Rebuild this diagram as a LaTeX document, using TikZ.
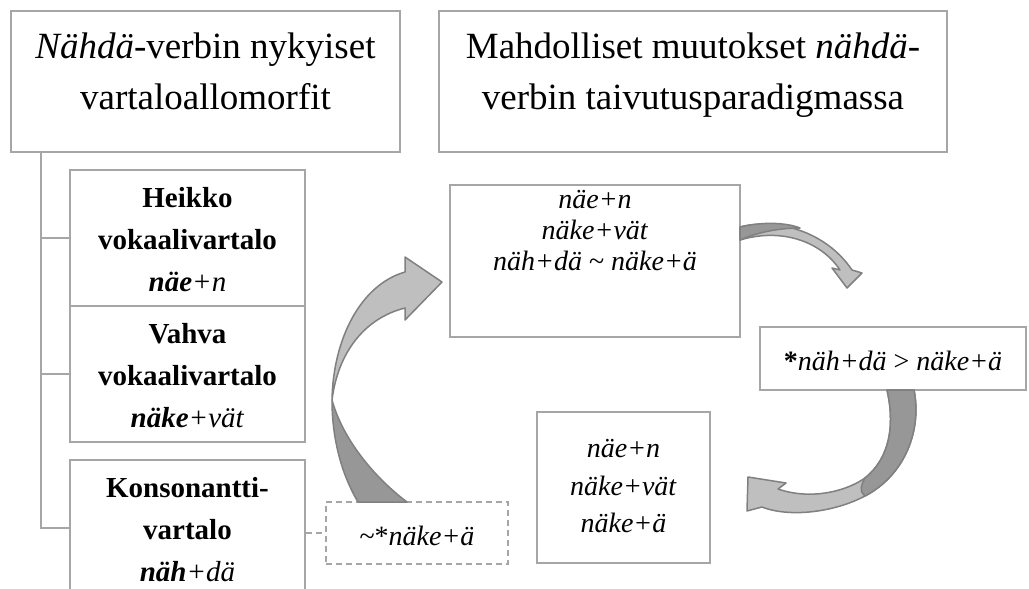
\documentclass[tikz,border=0pt]{standalone}
\usepackage{fontspec}
\setmainfont{Liberation Serif}
\usepackage{xcolor}
\usepackage{tikz}
\usetikzlibrary{fit}
\definecolor{framegray}{HTML}{A6A6A6}
\definecolor{arrowlight}{HTML}{BFBFBF}
\definecolor{arrowdark}{HTML}{979797}
\definecolor{arrowline}{HTML}{808080}

\begin{document}
\begin{tikzpicture}[x=0.5pt,y=-0.5pt,
	box/.style={draw=framegray,line width=1pt,fill=white,inner sep=0pt},
	altbox/.style={box,dash pattern=on 3pt off 2pt},
	link/.style={draw=framegray,line width=1pt},
	titlefont/.style={inner sep=0pt,align=center,font=\fontsize{18.5}{25.5}\selectfont},
	stemfont/.style={inner sep=0pt,align=center,font=\fontsize{14.5}{21}\selectfont},
	formfont/.style={inner sep=0pt,align=center,font=\fontsize{14}{15.5}\selectfont},
	lightpart/.style={fill=arrowlight,draw=arrowline,line width=0.75pt,line join=round},
	darkpart/.style={fill=arrowdark,draw=arrowline,line width=0.75pt,line join=round}]
	\useasboundingbox[fill=white] (0,0) rectangle (1029,589);

	\node[box,fit={(11,11) (400,152)}] (title1) {};
	\node[titlefont,anchor=north] (title1text) at (205.5,32) {\textit{Nähdä}-verbin nykyiset\\vartaloallomorfit};
	\node[box,fit={(439,11) (947,152)}] (title2) {};
	\node[titlefont,anchor=north] (title2text) at (693,32) {Mahdolliset muutokset \textit{nähdä}-\\verbin taivutusparadigmassa};

	\node[box,fit={(70,170) (305,306)}] (heikko) {};
	\node[stemfont] (heikkotext) at ([yshift=-1pt]heikko.center) {\textbf{Heikko}\\\textbf{vokaalivartalo}\\\textbf{\textit{näe}}\textit{+n}};
	\node[box,fit={(70,306) (305,442)}] (vahva) {};
	\node[stemfont] (vahvatext) at ([yshift=-1pt]vahva.center) {\textbf{Vahva}\\\textbf{vokaalivartalo}\\\textbf{\textit{näke}}\textit{+vät}};
	\node[box,fit={(70,460) (305,596)}] (konso) {};
	\node[stemfont] (konsotext) at ([yshift=-1pt]konso.center) {\textbf{Konsonantti-}\\\textbf{vartalo}\\\textbf{\textit{näh}}\textit{+dä}};

	\coordinate (root) at ([xshift=15.5pt]title1.south west);
	\draw[link] (root) |- (heikko.west);
	\draw[link] (root) |- (vahva.west);
	\draw[link] (root) |- (konso.west);

	\node[altbox,fit={(326,502) (508,564)}] (alt) {};
	\node[formfont] (alttext) at ([yshift=-1.5pt]alt.center) {\textasciitilde*\textit{näke+ä}};
	\draw[link,dash pattern=on 3pt off 2pt] (alt.west -| konso.east) -- (alt.west);

	\node[box,fit={(450,185) (740,337)}] (state) {};
	\node[formfont,anchor=north] (statetext) at (595,190) {\textit{näe+n}\\\textit{näke+vät}\\\textit{näh+dä} \textasciitilde{} \textit{näke+ä}};
	\node[box,fit={(760,327) (1026,390)}] (rule) {};
	\node[formfont] (ruletext) at ([yshift=-1pt]rule.center) {\textbf{*}\textit{näh+dä} > \textit{näke+ä}};
	\node[box,fit={(537,412) (710,563)}] (result) {};
	\node[formfont,font=\fontsize{14}{18.75}\selectfont,anchor=north] (resulttext) at (623.5,439) {\textit{näe+n}\\\textit{näke+vät}\\\textit{näke+ä}};

	\draw[lightpart] (405,272) .. controls (360,285) and (333,340) .. (332,400) .. controls (338,352) and (365,318) .. (405,308) -- (405,320) -- (442,282) -- (405,257) -- cycle;
	\draw[darkpart] (332,400) .. controls (332,440) and (342,475) .. (358,502) -- (407,502) .. controls (375,478) and (343,440) .. (332,400) -- cycle;

	\draw[lightpart] (740,227) .. controls (775,218) and (825,230) .. (852,270) -- (862,273) -- (847,288) -- (832,268) -- (840,270) .. controls (820,240) and (780,228) .. (740,240) -- cycle;
	\draw[darkpart] (740,227) .. controls (760,222) and (785,222) .. (800,228) .. controls (780,228) and (758,232) .. (740,240) -- cycle;

	\draw[lightpart] (914,390) .. controls (922,430) and (905,475) .. (865,496) .. controls (835,512) and (790,518) .. (762,507) -- (747,511) -- (748,477) -- (786,483) -- (778,489) .. controls (810,500) and (845,492) .. (865,478) .. controls (890,458) and (895,425) .. (887,390) -- cycle;
	\draw[darkpart] (914,390) .. controls (922,430) and (905,475) .. (865,496) .. controls (858,490) and (862,484) .. (865,478) .. controls (890,458) and (895,425) .. (887,390) -- cycle;
\end{tikzpicture}
\end{document}
